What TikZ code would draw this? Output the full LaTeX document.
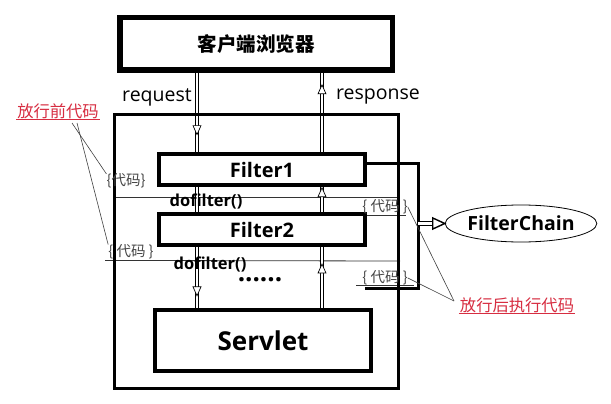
\documentclass[tikz,border=0pt]{standalone}
\usepackage{fontspec}
\setmainfont{Open Sans}
\newfontfamily\cjk{Noto Sans CJK SC}
\usetikzlibrary{arrows.meta,decorations.markings,shapes.geometric,calc,backgrounds}
\definecolor{redlab}{RGB}{215,45,65}
\definecolor{codegray}{RGB}{70,70,70}
\begin{document}
\begin{tikzpicture}[x=1pt,y=-1pt,
  box/.style={draw, rectangle, inner sep=0pt},
  conn/.style={postaction={draw, double=white, double distance=2pt, line width=0.7pt}},
  head/.style={postaction={decorate, decoration={markings, mark=at position #1 with {\draw[fill=white,line width=0.7pt] (-9pt,-4pt)--(0pt,0pt)--(-9pt,4pt)--cycle;}}}},
  thinline/.style={draw, line width=0.8pt, black!80},
  lead/.style={draw, line width=0.6pt, black!75},
  redtxt/.style={text=redlab, inner sep=1pt, font=\cjk\fontsize{16.3}{17}\selectfont},
  codetxt/.style={text=codegray, inner sep=0pt, font=\cjk\fontsize{14.5}{15}\selectfont},
]
\useasboundingbox (0,0) rectangle (611,404);

% boxes
\node[box, line width=5.5pt, minimum width=272.5pt, minimum height=52.5pt, font=\cjk\bfseries\fontsize{19.5}{20}\selectfont] (top) at (256,44) {客户端浏览器};
\node[box, line width=3pt, minimum width=284pt, minimum height=274pt] (srv) at (256.5,251.5) {};
\node[box, line width=4pt, minimum width=206pt, minimum height=31pt, font=\bfseries\fontsize{20}{20}\selectfont] (f1) at (262,169.5) {Filter1};
\node[box, line width=4pt, minimum width=206pt, minimum height=31pt, font=\bfseries\fontsize{20}{20}\selectfont] (f2) at (262,229.5) {Filter2};
\node[box, line width=4pt, minimum width=216pt, minimum height=61pt, font=\bfseries\fontsize{26}{26}\selectfont] (sv) at (263,340.5) {Servlet};
\node[draw, ellipse, line width=0.8pt, minimum width=132pt, minimum height=37pt, inner sep=0pt, font=\bfseries\fontsize{19.5}{19.5}\selectfont] (fc) at (521,223.5) {FilterChain};

% texts
\node[font=\fontsize{19.5}{19.5}\selectfont, inner sep=0pt] (req) at (157,97) {request};
\node[font=\fontsize{19.5}{19.5}\selectfont, inner sep=0pt] (resp) at (378,97) {response};
\node[font=\bfseries\fontsize{16.5}{17}\selectfont, inner sep=0pt] (df1) at (206,201) {dofilter()};
\node[font=\bfseries\fontsize{16.5}{17}\selectfont, inner sep=0pt] (df2) at (210,264) {dofilter()};
\node[font=\bfseries\fontsize{26}{26}\selectfont, inner sep=0pt, anchor=base] (dots) at (260,281) {......};

\node[redtxt] (pre) at (58,111) {放行前代码};
\node[redtxt] (post) at (517,305) {放行后执行代码};
\draw[redlab, line width=0.8pt] (pre.south west) -- (pre.south east);
\draw[redlab, line width=0.8pt] (post.south west) -- (post.south east);

\node[codetxt] (cl1) at (126,181) {\{代码\}};
\node[codetxt] (cl2) at (131,252) {\{ 代码 \}};
\node[codetxt] (cr1) at (385,207) {\{ 代码 \}};
\node[codetxt] (cr2) at (385,278) {\{ 代码 \}};

\coordinate (xL) at (197,0);
\coordinate (xR) at (322,0);
\coordinate (bkTop) at (418,163);
\coordinate (bkBot) at (418,288);
\coordinate (bkEnd) at (365,288);
\coordinate (preTip) at (72,123);
\coordinate (postTip) at (454,301);

\begin{scope}[on background layer]
  \fill[white] (0,0) rectangle (611,404);
  % thin horizontal lines
  \draw[thinline] (srv.west |- 0,197) -- (srv.east |- 0,197);
  \draw[thinline] (cl2.south west) ++(-3,1) -- (srv.east |- 0,261);
  \draw[thinline] (cr1.south west) ++(-6,1) -- ++(50,0);
  \draw[thinline] (cr2.south west) ++(-6,0) -- ++(58,0);
  % flow connectors
  \path[conn, head=0.78] (top.south -| xL) -- (f1.north -| xL);
  \path[conn, head=0.85] (f1.north -| xR) -- (top.south -| xR);
  \path[conn] (f1.south -| xL) -- (f2.north -| xL);
  \path[conn, head=0.97] (f2.north -| xR) -- (f1.south -| xR);
  \path[conn, head=0.8] (f2.south -| xL) -- (sv.north -| xL);
  \path[conn, head=0.72] (sv.north -| xR) -- (f2.south -| xR);
\end{scope}

% FilterChain bracket and arrow
\draw[line width=3pt] (f1.east |- bkTop) -- (bkTop) -- (bkBot) -- (bkEnd);
\path[postaction={draw, double=white, double distance=2.5pt, line width=1.6pt, shorten >=8pt},
      postaction={decorate, decoration={markings, mark=at position 1 with {\draw[fill=white,line width=1.4pt] (-12pt,-5.5pt)--(0pt,0pt)--(-12pt,5.5pt)--cycle;}}}]
  (bkTop |- fc.west) -- (fc.west);

% leader lines
\draw[lead] (preTip) -- (cl1.160);
\draw[lead] ($(preTip)+(5,0)$) -- (cl2.north west);
\draw[lead] (postTip) -- (cr1.east);
\draw[lead] (postTip) -- (cr2.east);
\end{tikzpicture}
\end{document}
